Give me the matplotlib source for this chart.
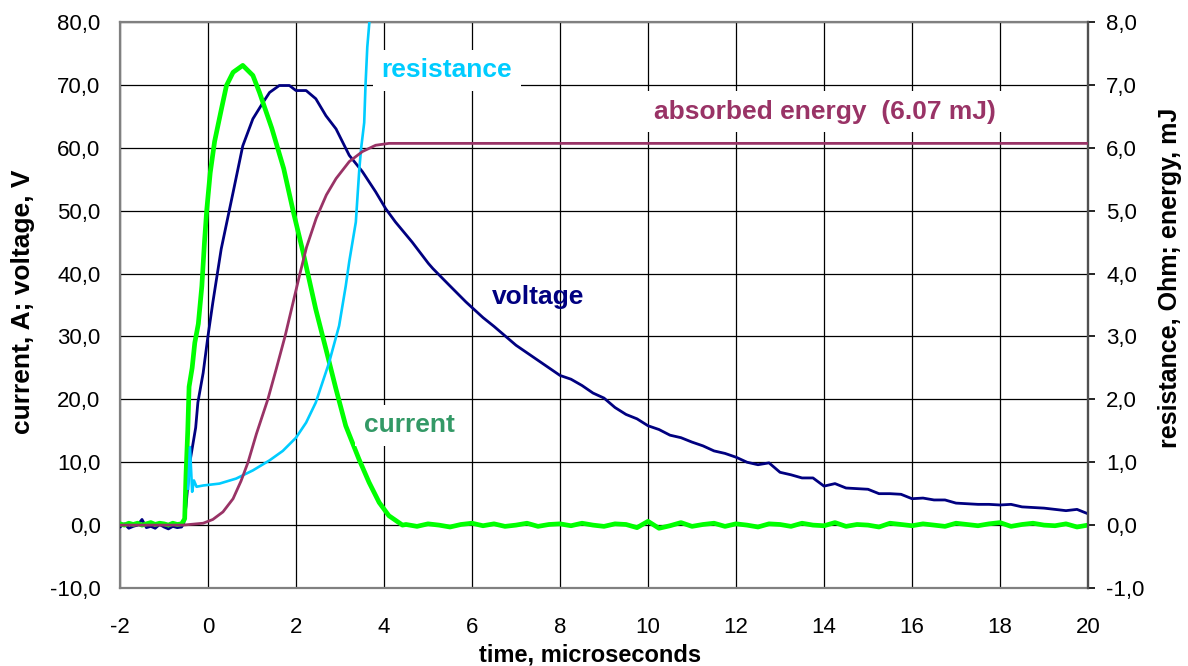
import numpy as np
import matplotlib
matplotlib.use("Agg")
import matplotlib.pyplot as plt
from matplotlib.ticker import FuncFormatter

plt.rcParams['font.family'] = ['Liberation Sans', 'DejaVu Sans']

# ---------------- data ----------------
# pre-trigger baseline samples (-2.0 .. -0.6 us, every 0.1 us)
pre_t = np.arange(-2.0, -0.55, 0.1)
current_pre = [0.2, 0.0, 0.3, 0.1, 0.3, 0.0, 0.2, 0.4, 0.1, 0.3, 0.2, 0.0, 0.3, 0.1, 0.2]
voltage_pre = [-0.3, 0.2, -0.5, -0.2, 0.0, 0.9, -0.4, -0.2, -0.5, 0.1, -0.3, -0.6, -0.2, -0.4, -0.3]

# current pulse
current_t = [-0.53, -0.50, -0.46, -0.43, -0.36, -0.30, -0.22, -0.14, -0.08, -0.03, 0.05, 0.15,
             0.30, 0.42, 0.57, 0.79, 1.02, 1.17, 1.45, 1.72, 1.94, 2.16, 2.45, 2.68, 2.91,
             3.13, 3.43, 3.66, 3.89, 4.11, 4.42]
current_v = [1.0, 8.0, 15.0, 22.0, 25.0, 29.0, 32.0, 38.0, 45.0, 50.0, 56.0, 61.0,
             66.0, 69.9, 72.0, 73.1, 71.5, 68.8, 63.1, 56.7, 49.8, 43.4, 34.3, 28.0, 21.6,
             15.8, 10.5, 6.8, 3.6, 1.5, 0.0]
# current baseline after the pulse (4.5 .. 20 us, every 0.25 us)
tail_c_t = np.arange(4.5, 20.01, 0.25)
current_tail = [0.1, -0.2, 0.2, 0.0, -0.3, 0.1, 0.3, -0.1, 0.2, -0.2,
                0.0, 0.3, -0.2, 0.1, 0.2, -0.1, 0.3, 0.0, -0.2, 0.2,
                0.1, -0.4, 0.6, -0.5, -0.1, 0.4, -0.2, 0.1, 0.3, -0.2,
                0.2, 0.0, -0.3, 0.2, 0.1, -0.2, 0.3, 0.0, -0.1, 0.4,
                -0.2, 0.1, 0.0, -0.3, 0.3, 0.1, -0.1, 0.2, 0.0, -0.2,
                0.3, 0.1, -0.1, 0.2, 0.4, -0.2, 0.1, 0.3, 0.0, -0.1,
                0.2, -0.3, 0.0]

# voltage pulse
voltage_t = [-0.55, -0.50, -0.45, -0.40, -0.34, -0.28, -0.23, -0.11, 0.00, 0.11, 0.30,
             0.57, 0.79, 1.02, 1.25, 1.40, 1.62, 1.85, 2.00, 2.23, 2.45, 2.68, 2.91,
             3.21, 3.51, 3.81, 4.04, 4.26, 4.64, 5.01, 5.11, 5.49, 5.86]
voltage_v = [0.3, 3.0, 7.0, 10.5, 13.0, 15.5, 19.5, 24.2, 30.1, 35.4, 43.9,
             52.9, 60.3, 64.6, 67.2, 68.8, 69.9, 69.9, 69.1, 69.1, 67.8, 65.1, 63.0,
             58.8, 56.2, 53.0, 50.3, 48.2, 45.0, 41.6, 40.8, 38.1, 35.5]
# voltage decay (6 .. 20 us, every 0.25 us)
tail_v_t = np.arange(6.0, 20.01, 0.25)
voltage_tail = [34.6, 33.0, 31.6, 30.1, 28.6, 27.4, 26.2, 25.0, 23.8, 23.2,
                22.2, 21.0, 20.2, 18.7, 17.6, 16.9, 15.8, 15.2, 14.3, 13.9,
                13.2, 12.6, 11.8, 11.4, 10.8, 10.0, 9.6, 9.9, 8.4, 8.0,
                7.5, 7.5, 6.2, 6.6, 5.9, 5.8, 5.7, 5.0, 5.0, 4.9,
                4.2, 4.3, 4.0, 4.0, 3.5, 3.4, 3.3, 3.3, 3.2, 3.3,
                2.9, 2.8, 2.7, 2.5, 2.3, 2.5, 1.8]

# resistance (Ohm, right axis)
resistance_t = [-0.45, -0.41, -0.36, -0.32, -0.26, -0.11, 0.26, 0.64, 1.02, 1.40, 1.70,
                2.00, 2.23, 2.45, 2.75, 2.98, 3.13, 3.21, 3.36, 3.40, 3.44, 3.48, 3.55,
                3.58, 3.62, 3.68]
resistance_v = [0.58, 1.24, 0.53, 0.71, 0.61, 0.63, 0.66, 0.74, 0.87, 1.03, 1.18,
                1.39, 1.63, 1.95, 2.58, 3.17, 3.80, 4.19, 4.82, 5.25, 5.67, 5.99, 6.40,
                7.00, 7.60, 8.10]

# absorbed energy (mJ, right axis)
energy_t = [-2.0, -0.57, -0.11, 0.11, 0.34, 0.57, 0.75, 0.91, 1.10, 1.36, 1.55, 1.75,
            1.92, 2.09, 2.24, 2.46, 2.69, 2.91, 3.21, 3.51, 3.81, 4.11, 20.0]
energy_v = [0.0, 0.0, 0.03, 0.09, 0.21, 0.42, 0.70, 1.0, 1.45, 2.0, 2.48, 3.0,
            3.5, 4.0, 4.42, 4.88, 5.25, 5.51, 5.78, 5.94, 6.04, 6.07, 6.07]

x_ticks = [-2, 0, 2, 4, 6, 8, 10, 12, 14, 16, 18, 20]
left_ticks = [-10, 0, 10, 20, 30, 40, 50, 60, 70, 80]
right_ticks = [-1, 0, 1, 2, 3, 4, 5, 6, 7, 8]

# ---------------- figure ----------------
W, H = 1188, 666
fig = plt.figure(figsize=(W / 100, H / 100), dpi=100)
ax = fig.add_axes([120 / W, 78 / H, 968 / W, 566 / H])
ax.set_xlim(-2, 20)
ax.set_ylim(-10, 80)
ax.set_xticks(x_ticks)
ax.set_yticks(left_ticks)
ax.grid(True, color='black', linewidth=0.9)
ax.set_axisbelow(True)
for s in ax.spines.values():
    s.set_color('#808080')
    s.set_linewidth(1.6)

comma = FuncFormatter(lambda v, p: f"{v:.1f}".replace('.', ','))
ax.yaxis.set_major_formatter(comma)
ax.xaxis.set_major_formatter(FuncFormatter(lambda v, p: f"{v:.0f}"))
ax.tick_params(axis='y', length=0, pad=14, labelsize=16, colors='black')
ax.tick_params(axis='x', length=0, pad=21, labelsize=16, colors='black')

t_cur = np.concatenate([pre_t, current_t, tail_c_t])
v_cur = np.concatenate([current_pre, current_v, current_tail])
t_vol = np.concatenate([pre_t, voltage_t, tail_v_t])
v_vol = np.concatenate([voltage_pre, voltage_v, voltage_tail])

ax.plot(t_vol, v_vol, color='#000080', linewidth=2.0, zorder=3)
ax.plot(t_cur, v_cur, color='#00FF00', linewidth=3.4, zorder=4)

ax2 = ax.twinx()
ax2.set_ylim(-1, 8)
ax2.set_yticks(right_ticks)
ax2.yaxis.set_major_formatter(comma)
ax2.tick_params(axis='y', direction='out', length=5, width=1.2, pad=8,
                labelsize=16, colors='black')
for s in ax2.spines.values():
    s.set_visible(False)
ax2.spines['right'].set_visible(True)
ax2.spines['right'].set_color('#505050')
ax2.spines['right'].set_linewidth(1.6)

ax2.plot(resistance_t, resistance_v, color='#00CCFF', linewidth=1.9, zorder=3)
ax2.plot(energy_t, energy_v, color='#993366', linewidth=2.0, zorder=4)

# labels
ax.set_ylabel('current, A; voltage, V', fontsize=19, fontweight='bold')
ax.yaxis.set_label_coords((23 - 120) / 968, (588 - 302) / 566)
ax.yaxis.label.set_va('center')
ax2.set_ylabel('resistance, Ohm; energy, mJ', fontsize=18, fontweight='bold', rotation=90)
ax2.yaxis.set_label_coords((1170 - 120) / 968, (588 - 278) / 566)
ax2.yaxis.label.set_va('center')
ax.set_xlabel('time, microseconds', fontsize=17, fontweight='bold')
ax.xaxis.set_label_coords((590 - 120) / 968, (588 - 655) / 566)
ax.xaxis.label.set_va('center')

box = dict(facecolor='white', edgecolor='none', pad=6)
ax2.text(5.43, 7.23, 'resistance', color='#00CCFF', fontsize=19, fontweight='bold',
         ha='center', va='center', bbox=box, zorder=10)
ax2.text(14.02, 6.57, 'absorbed energy  (6.07 mJ)', color='#993366', fontsize=19,
         fontweight='bold', ha='center', va='center', bbox=box, zorder=10)
ax2.text(4.57, 1.59, 'current', color='#339966', fontsize=19, fontweight='bold',
         ha='center', va='center', bbox=box, zorder=10)
ax2.text(7.5, 3.62, 'voltage', color='#000080', fontsize=19, fontweight='bold',
         ha='center', va='center', zorder=10)

fig.savefig('out.png', dpi=100)
